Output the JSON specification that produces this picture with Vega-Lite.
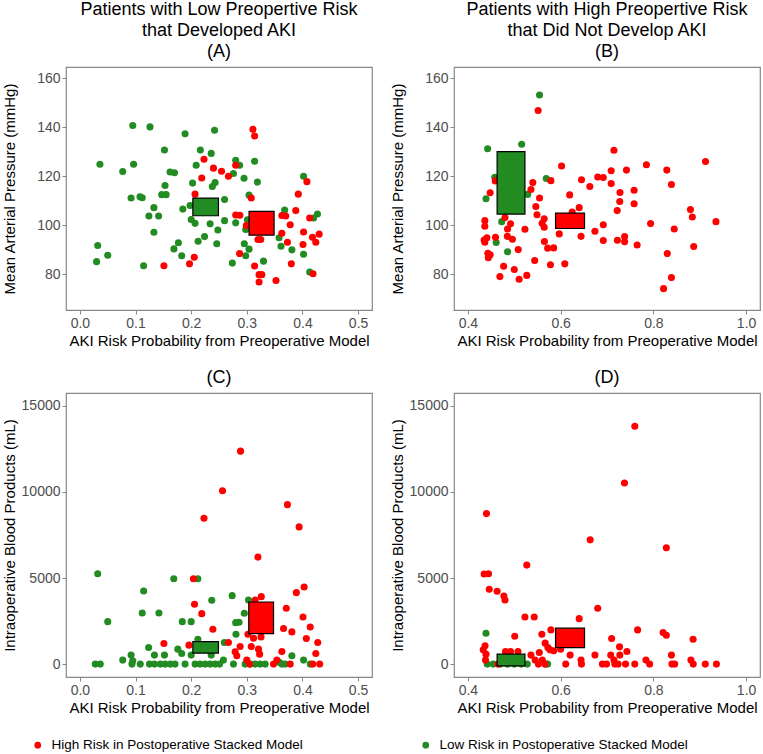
{
  "$schema": "https://vega.github.io/schema/vega-lite/v6.json",
  "padding": {"left": 1, "top": 0, "right": 2, "bottom": 0},
  "config": {
    "font": "Liberation Sans",
    "view": {"stroke": "#888888", "strokeWidth": 1.2},
    "axis": {"domain": false, "grid": false, "tickColor": "#888888", "tickSize": 4, "labelColor": "#4D4D4D", "labelFontSize": 14, "labelPadding": 2, "titleFontSize": 15, "titleFontWeight": "normal", "titleColor": "#000000", "titlePadding": 3},
    "axisY": {"titleX": -49},
    "title": {"fontSize": 18, "fontWeight": "normal", "lineHeight": 21, "frame": "group", "anchor": "middle", "offset": 6, "color": "#000000"}
  },
  "datasets": {
    "groups": [
      {"r": "H", "risk": "High Risk in Postoperative Stacked Model"},
      {"r": "L", "risk": "Low Risk in Postoperative Stacked Model"}
    ],
    "boxes": [
      {"p": "A", "r": "L", "x1": 0.203, "x2": 0.249, "y1": 103.9, "y2": 111.1},
      {"p": "A", "r": "H", "x1": 0.304, "x2": 0.349, "y1": 96.0, "y2": 105.7},
      {"p": "B", "r": "L", "x1": 0.463, "x2": 0.523, "y1": 104.6, "y2": 130.0},
      {"p": "B", "r": "H", "x1": 0.589, "x2": 0.6515, "y1": 98.7, "y2": 105.0},
      {"p": "C", "r": "L", "x1": 0.203, "x2": 0.249, "y1": 637, "y2": 1309},
      {"p": "C", "r": "H", "x1": 0.3035, "x2": 0.348, "y1": 1772, "y2": 3607},
      {"p": "D", "r": "L", "x1": 0.463, "x2": 0.523, "y1": -100, "y2": 579},
      {"p": "D", "r": "H", "x1": 0.589, "x2": 0.6515, "y1": 961, "y2": 2084}
    ],
    "pts": [
      {"p":"A","r":"L","x":0.095,"y":140.7},{"p":"A","r":"L","x":0.126,"y":140.1},{"p":"A","r":"L","x":0.189,"y":137.3},{"p":"A","r":"L","x":0.242,"y":138.7},
      {"p":"A","r":"L","x":0.152,"y":130.7},{"p":"A","r":"L","x":0.2165,"y":130.7},{"p":"A","r":"L","x":0.236,"y":129.3},{"p":"A","r":"L","x":0.036,"y":124.9},
      {"p":"A","r":"L","x":0.0965,"y":124.9},{"p":"A","r":"L","x":0.077,"y":121.9},{"p":"A","r":"L","x":0.209,"y":124.5},{"p":"A","r":"L","x":0.162,"y":121.7},
      {"p":"A","r":"L","x":0.170,"y":121.4},{"p":"A","r":"L","x":0.2025,"y":117.2},{"p":"A","r":"L","x":0.238,"y":115.8},{"p":"A","r":"L","x":0.243,"y":117.4},
      {"p":"A","r":"L","x":0.153,"y":116.2},{"p":"A","r":"L","x":0.147,"y":112.5},{"p":"A","r":"L","x":0.155,"y":112.5},{"p":"A","r":"L","x":0.092,"y":111.1},
      {"p":"A","r":"L","x":0.108,"y":111.6},{"p":"A","r":"L","x":0.112,"y":111.2},{"p":"A","r":"L","x":0.133,"y":107.2},{"p":"A","r":"L","x":0.185,"y":106.6},
      {"p":"A","r":"L","x":0.198,"y":108.1},{"p":"A","r":"L","x":0.124,"y":103.8},{"p":"A","r":"L","x":0.1415,"y":103.8},{"p":"A","r":"L","x":0.200,"y":102.4},
      {"p":"A","r":"L","x":0.207,"y":100.8},{"p":"A","r":"L","x":0.234,"y":100.6},{"p":"A","r":"L","x":0.248,"y":98.1},{"p":"A","r":"L","x":0.133,"y":97.2},
      {"p":"A","r":"L","x":0.224,"y":95.4},{"p":"A","r":"L","x":0.2125,"y":93.5},{"p":"A","r":"L","x":0.246,"y":92.5},{"p":"A","r":"L","x":0.177,"y":92.9},
      {"p":"A","r":"L","x":0.169,"y":90.4},{"p":"A","r":"L","x":0.032,"y":91.8},{"p":"A","r":"L","x":0.050,"y":87.8},{"p":"A","r":"L","x":0.030,"y":85.2},
      {"p":"A","r":"L","x":0.183,"y":87.6},{"p":"A","r":"L","x":0.1145,"y":83.5},{"p":"A","r":"L","x":0.280,"y":126.5},{"p":"A","r":"L","x":0.287,"y":124.5},
      {"p":"A","r":"L","x":0.276,"y":121.1},{"p":"A","r":"L","x":0.314,"y":126.1},{"p":"A","r":"L","x":0.295,"y":119.2},{"p":"A","r":"L","x":0.319,"y":117.6},
      {"p":"A","r":"L","x":0.260,"y":110.5},{"p":"A","r":"L","x":0.304,"y":112.3},{"p":"A","r":"L","x":0.402,"y":120.0},{"p":"A","r":"L","x":0.368,"y":106.2},
      {"p":"A","r":"L","x":0.420,"y":103.0},{"p":"A","r":"L","x":0.427,"y":104.6},{"p":"A","r":"L","x":0.260,"y":101.9},{"p":"A","r":"L","x":0.280,"y":101.0},
      {"p":"A","r":"L","x":0.301,"y":102.3},{"p":"A","r":"L","x":0.298,"y":98.3},{"p":"A","r":"L","x":0.358,"y":94.9},{"p":"A","r":"L","x":0.3615,"y":91.5},
      {"p":"A","r":"L","x":0.381,"y":90.0},{"p":"A","r":"L","x":0.2955,"y":92.5},{"p":"A","r":"L","x":0.304,"y":90.3},{"p":"A","r":"L","x":0.298,"y":87.6},
      {"p":"A","r":"L","x":0.402,"y":88.2},{"p":"A","r":"L","x":0.274,"y":84.6},{"p":"A","r":"L","x":0.330,"y":85.4},{"p":"A","r":"L","x":0.413,"y":81.0},
      {"p":"A","r":"H","x":0.223,"y":126.9},{"p":"A","r":"H","x":0.240,"y":123.3},{"p":"A","r":"H","x":0.2545,"y":122.0},{"p":"A","r":"H","x":0.219,"y":119.3},
      {"p":"A","r":"H","x":0.207,"y":112.7},{"p":"A","r":"H","x":0.2055,"y":87.0},{"p":"A","r":"H","x":0.197,"y":84.3},{"p":"A","r":"H","x":0.151,"y":83.5},
      {"p":"A","r":"H","x":0.311,"y":139.1},{"p":"A","r":"H","x":0.314,"y":136.4},{"p":"A","r":"H","x":0.267,"y":120.0},{"p":"A","r":"H","x":0.280,"y":124.5},
      {"p":"A","r":"H","x":0.280,"y":104.2},{"p":"A","r":"H","x":0.2875,"y":104.1},{"p":"A","r":"H","x":0.299,"y":99.9},{"p":"A","r":"H","x":0.320,"y":94.2},
      {"p":"A","r":"H","x":0.325,"y":94.2},{"p":"A","r":"H","x":0.363,"y":96.8},{"p":"A","r":"H","x":0.363,"y":104.0},{"p":"A","r":"H","x":0.370,"y":103.8},
      {"p":"A","r":"H","x":0.378,"y":100.2},{"p":"A","r":"H","x":0.388,"y":106.0},{"p":"A","r":"H","x":0.3925,"y":112.7},{"p":"A","r":"H","x":0.408,"y":117.8},
      {"p":"A","r":"H","x":0.402,"y":97.3},{"p":"A","r":"H","x":0.373,"y":93.1},{"p":"A","r":"H","x":0.401,"y":92.2},{"p":"A","r":"H","x":0.413,"y":103.0},
      {"p":"A","r":"H","x":0.418,"y":95.1},{"p":"A","r":"H","x":0.424,"y":93.1},{"p":"A","r":"H","x":0.430,"y":96.4},{"p":"A","r":"H","x":0.380,"y":84.3},
      {"p":"A","r":"H","x":0.419,"y":80.3},{"p":"A","r":"H","x":0.314,"y":83.4},{"p":"A","r":"H","x":0.322,"y":79.9},{"p":"A","r":"H","x":0.327,"y":79.9},
      {"p":"A","r":"H","x":0.322,"y":76.9},{"p":"A","r":"H","x":0.3525,"y":77.5},{"p":"A","r":"H","x":0.287,"y":88.5},{"p":"A","r":"H","x":0.308,"y":111.1},

      {"p":"B","r":"L","x":0.5545,"y":153.1},{"p":"B","r":"L","x":0.4425,"y":131.2},{"p":"B","r":"L","x":0.516,"y":133.0},{"p":"B","r":"L","x":0.458,"y":119.6},
      {"p":"B","r":"L","x":0.569,"y":119.1},{"p":"B","r":"L","x":0.439,"y":110.8},{"p":"B","r":"L","x":0.529,"y":112.6},{"p":"B","r":"L","x":0.473,"y":101.5},
      {"p":"B","r":"L","x":0.461,"y":93.0},{"p":"B","r":"L","x":0.4855,"y":89.2},
      {"p":"B","r":"H","x":0.5515,"y":146.8},{"p":"B","r":"H","x":0.602,"y":124.2},{"p":"B","r":"H","x":0.579,"y":118.2},{"p":"B","r":"H","x":0.645,"y":118.6},
      {"p":"B","r":"H","x":0.680,"y":119.7},{"p":"B","r":"H","x":0.692,"y":119.5},{"p":"B","r":"H","x":0.663,"y":115.8},{"p":"B","r":"H","x":0.6195,"y":112.4},
      {"p":"B","r":"H","x":0.640,"y":107.2},{"p":"B","r":"H","x":0.625,"y":105.4},{"p":"B","r":"H","x":0.540,"y":117.4},{"p":"B","r":"H","x":0.536,"y":114.6},
      {"p":"B","r":"H","x":0.448,"y":113.3},{"p":"B","r":"H","x":0.5545,"y":111.1},{"p":"B","r":"H","x":0.5465,"y":107.7},{"p":"B","r":"H","x":0.549,"y":104.3},
      {"p":"B","r":"H","x":0.5645,"y":102.7},{"p":"B","r":"H","x":0.560,"y":100.8},{"p":"B","r":"H","x":0.5645,"y":99.2},{"p":"B","r":"H","x":0.480,"y":103.2},
      {"p":"B","r":"H","x":0.492,"y":100.6},{"p":"B","r":"H","x":0.4855,"y":98.5},{"p":"B","r":"H","x":0.523,"y":98.4},{"p":"B","r":"H","x":0.4365,"y":101.9},
      {"p":"B","r":"H","x":0.4365,"y":99.6},{"p":"B","r":"H","x":0.435,"y":94.0},{"p":"B","r":"H","x":0.441,"y":94.9},{"p":"B","r":"H","x":0.4365,"y":93.1},
      {"p":"B","r":"H","x":0.4595,"y":95.1},{"p":"B","r":"H","x":0.485,"y":95.5},{"p":"B","r":"H","x":0.496,"y":94.3},{"p":"B","r":"H","x":0.5085,"y":90.1},
      {"p":"B","r":"H","x":0.443,"y":88.6},{"p":"B","r":"H","x":0.448,"y":88.0},{"p":"B","r":"H","x":0.444,"y":86.8},{"p":"B","r":"H","x":0.477,"y":83.3},
      {"p":"B","r":"H","x":0.500,"y":82.0},{"p":"B","r":"H","x":0.469,"y":79.1},{"p":"B","r":"H","x":0.5105,"y":78.0},{"p":"B","r":"H","x":0.527,"y":79.6},
      {"p":"B","r":"H","x":0.544,"y":85.7},{"p":"B","r":"H","x":0.565,"y":93.4},{"p":"B","r":"H","x":0.572,"y":90.7},{"p":"B","r":"H","x":0.585,"y":90.8},
      {"p":"B","r":"H","x":0.578,"y":83.9},{"p":"B","r":"H","x":0.609,"y":84.3},{"p":"B","r":"H","x":0.597,"y":96.5},{"p":"B","r":"H","x":0.644,"y":95.5},
      {"p":"B","r":"H","x":0.674,"y":97.6},{"p":"B","r":"H","x":0.692,"y":100.2},{"p":"B","r":"H","x":0.692,"y":93.8},{"p":"B","r":"H","x":0.715,"y":130.6},
      {"p":"B","r":"H","x":0.709,"y":122.2},{"p":"B","r":"H","x":0.742,"y":122.5},{"p":"B","r":"H","x":0.785,"y":124.7},{"p":"B","r":"H","x":0.829,"y":122.5},
      {"p":"B","r":"H","x":0.9125,"y":126.0},{"p":"B","r":"H","x":0.709,"y":117.0},{"p":"B","r":"H","x":0.839,"y":116.6},{"p":"B","r":"H","x":0.728,"y":113.4},
      {"p":"B","r":"H","x":0.7585,"y":114.3},{"p":"B","r":"H","x":0.7275,"y":109.7},{"p":"B","r":"H","x":0.7585,"y":108.8},{"p":"B","r":"H","x":0.722,"y":106.0},
      {"p":"B","r":"H","x":0.880,"y":106.4},{"p":"B","r":"H","x":0.884,"y":103.4},{"p":"B","r":"H","x":0.794,"y":100.7},{"p":"B","r":"H","x":0.935,"y":101.5},
      {"p":"B","r":"H","x":0.845,"y":98.5},{"p":"B","r":"H","x":0.7225,"y":93.9},{"p":"B","r":"H","x":0.738,"y":95.4},{"p":"B","r":"H","x":0.738,"y":93.3},
      {"p":"B","r":"H","x":0.765,"y":92.0},{"p":"B","r":"H","x":0.887,"y":91.4},{"p":"B","r":"H","x":0.830,"y":88.5},{"p":"B","r":"H","x":0.839,"y":78.7},
      {"p":"B","r":"H","x":0.822,"y":74.2},{"p":"B","r":"H","x":0.459,"y":118.1},

      {"p":"C","r":"L","x":0.050,"y":2467},{"p":"C","r":"L","x":0.112,"y":2970},{"p":"C","r":"L","x":0.142,"y":2970},{"p":"C","r":"L","x":0.184,"y":2467},
      {"p":"C","r":"L","x":0.200,"y":2467},{"p":"C","r":"L","x":0.280,"y":2409},{"p":"C","r":"L","x":0.286,"y":2432},{"p":"C","r":"L","x":0.2955,"y":2953},
      {"p":"C","r":"L","x":0.237,"y":3706},{"p":"C","r":"L","x":0.2737,"y":3976},{"p":"C","r":"L","x":0.303,"y":3725},{"p":"C","r":"L","x":0.032,"y":5250},
      {"p":"C","r":"L","x":0.1687,"y":4960},{"p":"C","r":"L","x":0.212,"y":4960},{"p":"C","r":"L","x":0.1146,"y":4246},{"p":"C","r":"L","x":0.2805,"y":1737},
      {"p":"C","r":"L","x":0.212,"y":1447},{"p":"C","r":"L","x":0.1235,"y":961},{"p":"C","r":"L","x":0.176,"y":868},{"p":"C","r":"L","x":0.183,"y":614},
      {"p":"C","r":"L","x":0.2595,"y":1251},{"p":"C","r":"L","x":0.134,"y":521},{"p":"C","r":"L","x":0.152,"y":521},{"p":"C","r":"L","x":0.092,"y":521},
      {"p":"C","r":"L","x":0.200,"y":521},{"p":"C","r":"L","x":0.236,"y":521},{"p":"C","r":"L","x":0.381,"y":480},{"p":"C","r":"L","x":0.077,"y":232},
      {"p":"C","r":"L","x":0.095,"y":191},{"p":"C","r":"L","x":0.258,"y":232},{"p":"C","r":"L","x":0.402,"y":232},{"p":"C","r":"L","x":0.359,"y":97},
      {"p":"C","r":"L","x":0.0276,"y":0},{"p":"C","r":"L","x":0.0366,"y":0},{"p":"C","r":"L","x":0.0935,"y":0},{"p":"C","r":"L","x":0.1085,"y":0},
      {"p":"C","r":"L","x":0.125,"y":0},{"p":"C","r":"L","x":0.134,"y":0},{"p":"C","r":"L","x":0.1445,"y":0},{"p":"C","r":"L","x":0.153,"y":0},
      {"p":"C","r":"L","x":0.1625,"y":0},{"p":"C","r":"L","x":0.171,"y":0},{"p":"C","r":"L","x":0.189,"y":0},{"p":"C","r":"L","x":0.207,"y":0},
      {"p":"C","r":"L","x":0.216,"y":0},{"p":"C","r":"L","x":0.225,"y":0},{"p":"C","r":"L","x":0.234,"y":0},{"p":"C","r":"L","x":0.243,"y":0},
      {"p":"C","r":"L","x":0.251,"y":0},{"p":"C","r":"L","x":0.276,"y":0},{"p":"C","r":"L","x":0.297,"y":0},{"p":"C","r":"L","x":0.306,"y":0},
      {"p":"C","r":"L","x":0.315,"y":0},{"p":"C","r":"L","x":0.324,"y":0},{"p":"C","r":"L","x":0.333,"y":0},{"p":"C","r":"L","x":0.363,"y":0},
      {"p":"C","r":"L","x":0.369,"y":0},{"p":"C","r":"L","x":0.414,"y":0},
      {"p":"C","r":"H","x":0.2887,"y":12371},{"p":"C","r":"H","x":0.2563,"y":10075},{"p":"C","r":"H","x":0.373,"y":9264},{"p":"C","r":"H","x":0.223,"y":8473},
      {"p":"C","r":"H","x":0.394,"y":7971},{"p":"C","r":"H","x":0.320,"y":6215},{"p":"C","r":"H","x":0.204,"y":4960},{"p":"C","r":"H","x":0.403,"y":4478},
      {"p":"C","r":"H","x":0.389,"y":4150},{"p":"C","r":"H","x":0.326,"y":3918},{"p":"C","r":"H","x":0.315,"y":3725},{"p":"C","r":"H","x":0.206,"y":3474},
      {"p":"C","r":"H","x":0.219,"y":2930},{"p":"C","r":"H","x":0.371,"y":3242},{"p":"C","r":"H","x":0.401,"y":2739},{"p":"C","r":"H","x":0.239,"y":2026},
      {"p":"C","r":"H","x":0.366,"y":2063},{"p":"C","r":"H","x":0.414,"y":2160},{"p":"C","r":"H","x":0.381,"y":1870},{"p":"C","r":"H","x":0.302,"y":1737},
      {"p":"C","r":"H","x":0.312,"y":1506},{"p":"C","r":"H","x":0.3255,"y":1581},{"p":"C","r":"H","x":0.407,"y":1482},{"p":"C","r":"H","x":0.151,"y":1193},
      {"p":"C","r":"H","x":0.4275,"y":1251},{"p":"C","r":"H","x":0.267,"y":1251},{"p":"C","r":"H","x":0.196,"y":1100},{"p":"C","r":"H","x":0.288,"y":1019},
      {"p":"C","r":"H","x":0.308,"y":1019},{"p":"C","r":"H","x":0.279,"y":712},{"p":"C","r":"H","x":0.282,"y":481},{"p":"C","r":"H","x":0.321,"y":868},
      {"p":"C","r":"H","x":0.323,"y":579},{"p":"C","r":"H","x":0.363,"y":730},{"p":"C","r":"H","x":0.424,"y":614},{"p":"C","r":"H","x":0.354,"y":232},
      {"p":"C","r":"H","x":0.300,"y":232},{"p":"C","r":"H","x":0.348,"y":0},{"p":"C","r":"H","x":0.378,"y":0},{"p":"C","r":"H","x":0.4185,"y":0},
      {"p":"C","r":"H","x":0.431,"y":0},{"p":"C","r":"H","x":0.305,"y":0},

      {"p":"D","r":"L","x":0.439,"y":1795},{"p":"D","r":"L","x":0.4416,"y":0},{"p":"D","r":"L","x":0.4545,"y":0},{"p":"D","r":"L","x":0.470,"y":0},
      {"p":"D","r":"L","x":0.485,"y":0},{"p":"D","r":"L","x":0.500,"y":0},{"p":"D","r":"L","x":0.515,"y":0},{"p":"D","r":"L","x":0.528,"y":0},
      {"p":"D","r":"L","x":0.568,"y":0},{"p":"D","r":"L","x":0.572,"y":0},
      {"p":"D","r":"H","x":0.760,"y":13819},{"p":"D","r":"H","x":0.7377,"y":10519},{"p":"D","r":"H","x":0.440,"y":8743},{"p":"D","r":"H","x":0.6637,"y":7218},
      {"p":"D","r":"H","x":0.828,"y":6755},{"p":"D","r":"H","x":0.527,"y":5751},{"p":"D","r":"H","x":0.435,"y":5230},{"p":"D","r":"H","x":0.4445,"y":5250},
      {"p":"D","r":"H","x":0.446,"y":4343},{"p":"D","r":"H","x":0.463,"y":4227},{"p":"D","r":"H","x":0.4776,"y":3957},{"p":"D","r":"H","x":0.480,"y":3725},
      {"p":"D","r":"H","x":0.523,"y":2739},{"p":"D","r":"H","x":0.543,"y":2739},{"p":"D","r":"H","x":0.640,"y":2641},{"p":"D","r":"H","x":0.680,"y":3242},
      {"p":"D","r":"H","x":0.766,"y":1986},{"p":"D","r":"H","x":0.579,"y":1986},{"p":"D","r":"H","x":0.5595,"y":1737},{"p":"D","r":"H","x":0.501,"y":1621},
      {"p":"D","r":"H","x":0.821,"y":1830},{"p":"D","r":"H","x":0.828,"y":1679},{"p":"D","r":"H","x":0.8857,"y":1447},{"p":"D","r":"H","x":0.710,"y":1482},
      {"p":"D","r":"H","x":0.5667,"y":1216},{"p":"D","r":"H","x":0.577,"y":828},{"p":"D","r":"H","x":0.585,"y":770},{"p":"D","r":"H","x":0.5725,"y":961},
      {"p":"D","r":"H","x":0.600,"y":868},{"p":"D","r":"H","x":0.6205,"y":521},{"p":"D","r":"H","x":0.727,"y":1002},{"p":"D","r":"H","x":0.743,"y":730},
      {"p":"D","r":"H","x":0.7277,"y":521},{"p":"D","r":"H","x":0.708,"y":521},{"p":"D","r":"H","x":0.674,"y":521},{"p":"D","r":"H","x":0.839,"y":521},
      {"p":"D","r":"H","x":0.437,"y":1060},{"p":"D","r":"H","x":0.433,"y":828},{"p":"D","r":"H","x":0.439,"y":579},{"p":"D","r":"H","x":0.438,"y":232},
      {"p":"D","r":"H","x":0.481,"y":730},{"p":"D","r":"H","x":0.492,"y":730},{"p":"D","r":"H","x":0.508,"y":730},{"p":"D","r":"H","x":0.536,"y":521},
      {"p":"D","r":"H","x":0.554,"y":672},{"p":"D","r":"H","x":0.545,"y":232},{"p":"D","r":"H","x":0.5605,"y":232},{"p":"D","r":"H","x":0.715,"y":232},
      {"p":"D","r":"H","x":0.784,"y":232},{"p":"D","r":"H","x":0.881,"y":232},{"p":"D","r":"H","x":0.644,"y":232},{"p":"D","r":"H","x":0.489,"y":483},
      {"p":"D","r":"H","x":0.465,"y":0},{"p":"D","r":"H","x":0.552,"y":0},{"p":"D","r":"H","x":0.566,"y":0},{"p":"D","r":"H","x":0.611,"y":0},
      {"p":"D","r":"H","x":0.645,"y":0},{"p":"D","r":"H","x":0.690,"y":0},{"p":"D","r":"H","x":0.699,"y":0},{"p":"D","r":"H","x":0.717,"y":0},
      {"p":"D","r":"H","x":0.724,"y":0},{"p":"D","r":"H","x":0.740,"y":0},{"p":"D","r":"H","x":0.760,"y":0},{"p":"D","r":"H","x":0.792,"y":0},
      {"p":"D","r":"H","x":0.840,"y":0},{"p":"D","r":"H","x":0.846,"y":0},{"p":"D","r":"H","x":0.886,"y":0},{"p":"D","r":"H","x":0.912,"y":0},
      {"p":"D","r":"H","x":0.936,"y":0}
    ]
  },
  "columns": 2,
  "spacing": {"column": 16, "row": 19},
  "concat": [
    {
      "width": 306, "height": 243,
      "title": {"text": ["Patients with Low Preopertive Risk", "that Developed AKI", "(A)"]},
      "layer": [
        {
          "data": {"name": "pts"},
          "transform": [{"filter": "datum.p == 'A'"}, {"lookup": "r", "from": {"data": {"name": "groups"}, "key": "r", "fields": ["risk"]}}],
          "mark": {"type": "circle", "size": 50, "opacity": 1},
          "encoding": {
            "x": {"field": "x", "type": "quantitative", "scale": {"domain": [-0.025, 0.525], "nice": false, "zero": false}, "axis": {"values": [0, 0.1, 0.2, 0.3, 0.4, 0.5], "format": ".1f", "title": "AKI Risk Probability from Preoperative Model"}},
            "y": {"field": "y", "type": "quantitative", "scale": {"domain": [65.5, 164.5], "nice": false, "zero": false}, "axis": {"values": [80, 100, 120, 140, 160], "title": "Mean Arterial Pressure (mmHg)"}},
            "color": {"field": "risk", "type": "nominal", "scale": {"domain": ["High Risk in Postoperative Stacked Model", "Low Risk in Postoperative Stacked Model"], "range": ["#FF0000", "#228B22"]},
              "legend": {"title": null, "orient": "none", "legendX": -35, "legendY": 671, "direction": "horizontal", "symbolType": "circle", "symbolSize": 45, "labelFontSize": 13.5, "labelColor": "#000000", "labelLimit": 500, "columnPadding": 116, "labelOffset": 7}}
          }
        },
        {
          "data": {"name": "boxes"},
          "transform": [{"filter": "datum.p == 'A'"}, {"lookup": "r", "from": {"data": {"name": "groups"}, "key": "r", "fields": ["risk"]}}],
          "mark": {"type": "rect", "stroke": "#000000", "strokeWidth": 1.2},
          "encoding": {
            "x": {"field": "x1", "type": "quantitative"}, "x2": {"field": "x2"},
            "y": {"field": "y1", "type": "quantitative"}, "y2": {"field": "y2"},
            "fill": {"field": "risk", "type": "nominal", "scale": {"domain": ["High Risk in Postoperative Stacked Model", "Low Risk in Postoperative Stacked Model"], "range": ["#FF0000", "#228B22"]}, "legend": null}
          }
        }
      ]
    },
    {
      "width": 306, "height": 243,
      "title": {"text": ["Patients with High Preopertive Risk", "that Did Not Develop AKI", "(B)"]},
      "layer": [
        {
          "data": {"name": "pts"},
          "transform": [{"filter": "datum.p == 'B'"}, {"lookup": "r", "from": {"data": {"name": "groups"}, "key": "r", "fields": ["risk"]}}],
          "mark": {"type": "circle", "size": 50, "opacity": 1},
          "encoding": {
            "x": {"field": "x", "type": "quantitative", "scale": {"domain": [0.37, 1.03], "nice": false, "zero": false}, "axis": {"values": [0.4, 0.6, 0.8, 1.0], "format": ".1f", "title": "AKI Risk Probability from Preoperative Model"}},
            "y": {"field": "y", "type": "quantitative", "scale": {"domain": [65.5, 164.5], "nice": false, "zero": false}, "axis": {"values": [80, 100, 120, 140, 160], "title": "Mean Arterial Pressure (mmHg)"}},
            "color": {"field": "risk", "type": "nominal"}
          }
        },
        {
          "data": {"name": "boxes"},
          "transform": [{"filter": "datum.p == 'B'"}, {"lookup": "r", "from": {"data": {"name": "groups"}, "key": "r", "fields": ["risk"]}}],
          "mark": {"type": "rect", "stroke": "#000000", "strokeWidth": 1.2},
          "encoding": {
            "x": {"field": "x1", "type": "quantitative"}, "x2": {"field": "x2"},
            "y": {"field": "y1", "type": "quantitative"}, "y2": {"field": "y2"},
            "fill": {"field": "risk", "type": "nominal", "legend": null}
          }
        }
      ]
    },
    {
      "width": 306, "height": 284,
      "title": {"text": "(C)"},
      "layer": [
        {
          "data": {"name": "pts"},
          "transform": [{"filter": "datum.p == 'C'"}, {"lookup": "r", "from": {"data": {"name": "groups"}, "key": "r", "fields": ["risk"]}}],
          "mark": {"type": "circle", "size": 50, "opacity": 1},
          "encoding": {
            "x": {"field": "x", "type": "quantitative", "scale": {"domain": [-0.025, 0.525], "nice": false, "zero": false}, "axis": {"values": [0, 0.1, 0.2, 0.3, 0.4, 0.5], "format": ".1f", "title": "AKI Risk Probability from Preoperative Model"}},
            "y": {"field": "y", "type": "quantitative", "scale": {"domain": [-750, 15750], "nice": false, "zero": false}, "axis": {"values": [0, 5000, 10000, 15000], "format": "d", "title": "Intraoperative Blood Products (mL)"}},
            "color": {"field": "risk", "type": "nominal"}
          }
        },
        {
          "data": {"name": "boxes"},
          "transform": [{"filter": "datum.p == 'C'"}, {"lookup": "r", "from": {"data": {"name": "groups"}, "key": "r", "fields": ["risk"]}}],
          "mark": {"type": "rect", "stroke": "#000000", "strokeWidth": 1.2},
          "encoding": {
            "x": {"field": "x1", "type": "quantitative"}, "x2": {"field": "x2"},
            "y": {"field": "y1", "type": "quantitative"}, "y2": {"field": "y2"},
            "fill": {"field": "risk", "type": "nominal", "legend": null}
          }
        }
      ]
    },
    {
      "width": 306, "height": 284,
      "title": {"text": "(D)"},
      "layer": [
        {
          "data": {"name": "pts"},
          "transform": [{"filter": "datum.p == 'D'"}, {"lookup": "r", "from": {"data": {"name": "groups"}, "key": "r", "fields": ["risk"]}}],
          "mark": {"type": "circle", "size": 50, "opacity": 1},
          "encoding": {
            "x": {"field": "x", "type": "quantitative", "scale": {"domain": [0.37, 1.03], "nice": false, "zero": false}, "axis": {"values": [0.4, 0.6, 0.8, 1.0], "format": ".1f", "title": "AKI Risk Probability from Preoperative Model"}},
            "y": {"field": "y", "type": "quantitative", "scale": {"domain": [-750, 15750], "nice": false, "zero": false}, "axis": {"values": [0, 5000, 10000, 15000], "format": "d", "title": "Intraoperative Blood Products (mL)"}},
            "color": {"field": "risk", "type": "nominal"}
          }
        },
        {
          "data": {"name": "boxes"},
          "transform": [{"filter": "datum.p == 'D'"}, {"lookup": "r", "from": {"data": {"name": "groups"}, "key": "r", "fields": ["risk"]}}],
          "mark": {"type": "rect", "stroke": "#000000", "strokeWidth": 1.2},
          "encoding": {
            "x": {"field": "x1", "type": "quantitative"}, "x2": {"field": "x2"},
            "y": {"field": "y1", "type": "quantitative"}, "y2": {"field": "y2"},
            "fill": {"field": "risk", "type": "nominal", "legend": null}
          }
        }
      ]
    }
  ]
}
